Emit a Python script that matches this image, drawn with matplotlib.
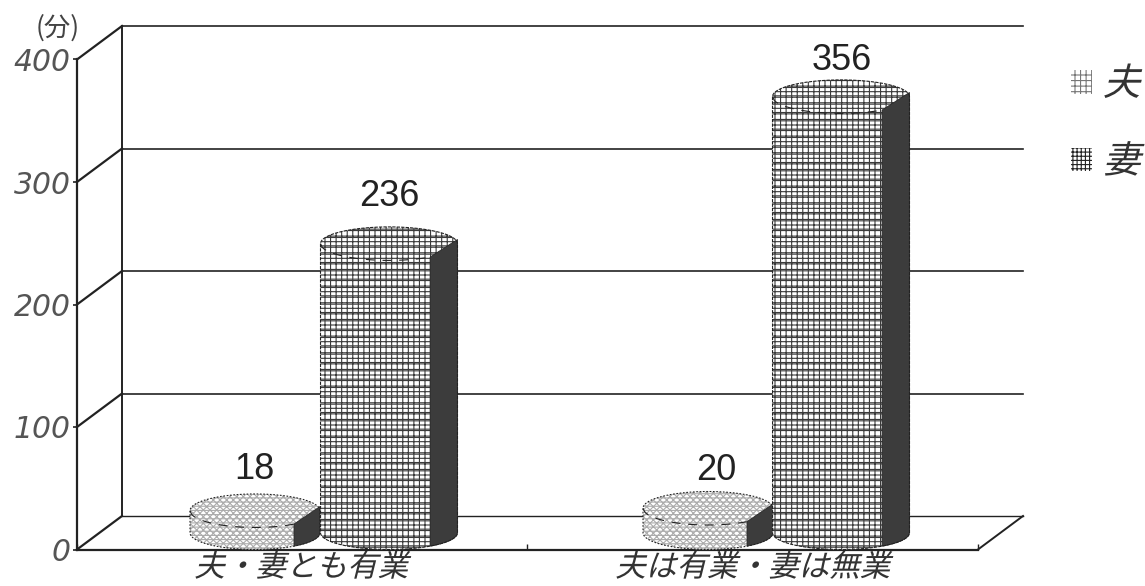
import numpy as np
import matplotlib
matplotlib.use("Agg")
import matplotlib.pyplot as plt
from matplotlib.patches import PathPatch, Patch
from matplotlib.path import Path
from matplotlib.patheffects import AbstractPathEffect
from matplotlib.transforms import Affine2D

plt.rcParams['font.family'] = ['Noto Sans CJK JP', 'DejaVu Sans']
plt.rcParams['hatch.linewidth'] = 0.8

# Minutes per day, by household type
categories = ['夫・妻とも有業', '夫は有業・妻は無業']
husband = [18, 20]
wife = [236, 356]
series_names = ['夫', '妻']
y_ticks = [0, 100, 200, 300, 400]
unit_label = '(分)'

# Layout of the pseudo-3D box, in axis units (x = pixels, y = minutes)
PX_PER_MIN = 1.225
DEPTH_Y = 33.5 / PX_PER_MIN
DEPTH_X = 45
FRONT_LEFT, FRONT_RIGHT = 77, 978
INK = '#222222'
husband_x = [255, 708]
wife_x = [389, 841]
husband_hw, wife_hw = 65, 68.5
label_gap = [(-1, 24), (8, 21), (0, 30), (1, 19)]


class SlantedText(AbstractPathEffect):
    """Shears glyph outlines to give CJK fonts an oblique look."""

    def __init__(self, degrees=14):
        super().__init__()
        self.degrees = degrees

    def draw_path(self, renderer, gc, tpath, affine, rgbFace=None):
        sheared = Affine2D().skew_deg(self.degrees, 0) + affine
        renderer.draw_path(gc, tpath, sheared, rgbFace)


fig = plt.figure(figsize=(11.45, 5.86), dpi=100, facecolor='white')
ax = fig.add_axes([0, 0, 1, 1], facecolor='none')
ax.set_xlim(0, 1145)
ax.set_ylim((549.5 - 586) / PX_PER_MIN, 549.5 / PX_PER_MIN)

# Front axes of the box
for side in ('top', 'right'):
    ax.spines[side].set_visible(False)
ax.spines['left'].set_position(('data', FRONT_LEFT))
ax.spines['left'].set_bounds(0, max(y_ticks))
ax.spines['bottom'].set_position(('data', 0))
ax.spines['bottom'].set_bounds(FRONT_LEFT, FRONT_RIGHT)
for side in ('left', 'bottom'):
    ax.spines[side].set_linewidth(1.6)
    ax.spines[side].set_color(INK)

ax.set_yticks(y_ticks)
ax.set_yticklabels([str(v) for v in y_ticks], family='DejaVu Sans', style='italic',
                   fontsize=21.5, color='#555555')
ax.tick_params(axis='y', length=3, width=1.2, pad=1.5, color=INK)
ax.set_xticks([np.mean(p) + d for p, d in zip(zip(husband_x, wife_x), (-21, -22))])
ax.set_xticklabels(categories, fontsize=22, color='#333333')
ax.tick_params(axis='x', length=0, pad=2)
for lab in ax.get_xticklabels():
    lab.set_path_effects([SlantedText()])
ax.set_xticks([FRONT_LEFT, 527, FRONT_RIGHT], minor=True)
ax.tick_params(axis='x', which='minor', direction='in', length=4, width=1, color=INK)

# Back wall, side wall and floor
back_left = FRONT_LEFT + DEPTH_X
back_right = FRONT_RIGHT + DEPTH_X
for v in y_ticks:
    ax.plot([back_left, back_right], [v + DEPTH_Y] * 2, color=INK, lw=1.2 if v else 1.0, zorder=1)
    ax.plot([FRONT_LEFT, back_left], [v, v + DEPTH_Y], color=INK, lw=1.6, zorder=1)
ax.plot([back_left, back_left], [DEPTH_Y, max(y_ticks) + DEPTH_Y], color=INK, lw=1.4, zorder=1)
ax.plot([FRONT_RIGHT, back_right], [0, DEPTH_Y], color=INK, lw=1.4, zorder=1)


def cylinder(cx, hw, value, hatch, hatch_color, z, overlay=None, edge_ls=(0, (3, 1))):
    """Draw one elliptical column whose rear top edge sits at value on the back wall."""
    ry = DEPTH_Y / 2
    top = value + ry
    base = ry
    t = np.linspace(0, np.pi, 80)
    upper = np.c_[cx + hw * np.cos(t), top + ry * np.sin(t)]
    lower = np.c_[cx - hw * np.cos(t), base - ry * np.sin(t)]
    outline = Path(np.vstack([upper, lower, upper[:1]]))
    ax.add_patch(PathPatch(outline, facecolor='white', edgecolor=hatch_color,
                           hatch=hatch, lw=0, zorder=z))
    if overlay:
        ax.add_patch(PathPatch(outline, facecolor='none', edgecolor=hatch_color,
                               hatch=overlay, lw=0, zorder=z))
    # Shaded side
    dx = cx + 0.6 * hw
    xs = np.linspace(dx, cx + hw, 30)
    s = np.sqrt(np.clip(1 - ((xs - cx) / hw) ** 2, 0, 1))
    side = np.vstack([[[dx, top - 0.8 * ry], [cx + hw, top + 0.25 * ry]],
                      np.c_[xs[::-1], (base - ry * s)[::-1]]])
    ax.add_patch(PathPatch(Path(np.vstack([side, side[:1]])), facecolor='#3c3c3c',
                           edgecolor='#2a2a2a', lw=0.6, zorder=z + 0.1))
    # Outline and the front rim of the top face
    ax.add_patch(PathPatch(outline, fill=False, edgecolor=INK, lw=0.8,
                           ls=edge_ls, zorder=z + 0.2))
    xr = np.linspace(cx - hw, dx, 60)
    rim = top - ry * np.sqrt(np.clip(1 - ((xr - cx) / hw) ** 2, 0, 1))
    ax.plot(xr, rim, color=INK, lw=0.8, ls=(0, (8, 7)), zorder=z + 0.2)


for cx, v in zip(husband_x, husband):
    cylinder(cx, husband_hw, v, 'xxxxx', '#ababab', 3, overlay='----', edge_ls=(0, (1.5, 1.5)))
for cx, v in zip(wife_x, wife):
    cylinder(cx, wife_hw, v, '+++', '#3a3a3a', 4, overlay='--')

# Value labels above the columns
values = husband + wife
centers = husband_x + wife_x
for v, cx, (dx, gap) in zip(values, centers, label_gap):
    ax.text(cx + dx, v + DEPTH_Y + gap / PX_PER_MIN, str(v), ha='center', va='center',
            family='Liberation Sans', fontsize=26, color='#222222', zorder=6)

ax.text(58, (549.5 - 28) / PX_PER_MIN, unit_label, ha='center', va='center',
        fontsize=19, color='#444444')

# Legend
handles = [Patch(facecolor='white', edgecolor='#777777', hatch='+++', lw=0),
           Patch(facecolor='white', edgecolor='#222222', hatch='++++', lw=0)]
leg = ax.legend(handles, series_names, loc='upper left', frameon=False,
                bbox_to_anchor=(1071 / 1145, 1 - 65 / 586), borderpad=0, borderaxespad=0,
                fontsize=27, handlelength=0.55, handleheight=0.6, handletextpad=0.3,
                labelspacing=1.03, labelcolor='#333333')
for txt in leg.get_texts():
    txt.set_path_effects([SlantedText()])

fig.savefig('out.png', dpi=100)
